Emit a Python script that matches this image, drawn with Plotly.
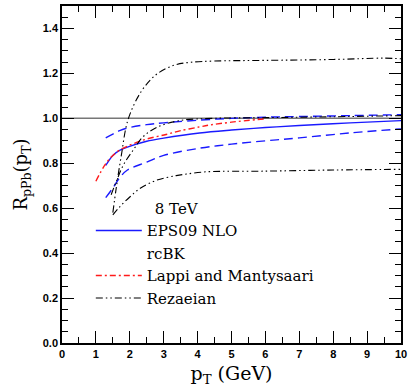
import plotly.graph_objects as go

# EPS09 NLO central and band
eps_pt = [1.29, 1.5, 1.7, 1.93, 2.5, 3.0, 4.06, 5.0, 6.0, 7.0, 8.5, 10.0]
eps_c = [0.79, 0.835, 0.857, 0.872, 0.898, 0.912, 0.935, 0.948, 0.959, 0.968, 0.980, 0.990]
eps_hi = [0.913, 0.93, 0.945, 0.957, 0.972, 0.980, 0.992, 1.000, 1.005, 1.008, 1.012, 1.016]
eps_lo = [0.647, 0.69, 0.735, 0.77, 0.805, 0.835, 0.867, 0.885, 0.900, 0.913, 0.935, 0.953]

# Lappi and Mantysaari
lm_pt = [1.0, 1.3, 1.6, 1.93, 2.5, 3.07, 3.5, 4.06, 4.35, 5.0, 6.0]
lm_r = [0.72, 0.80, 0.848, 0.876, 0.908, 0.928, 0.945, 0.962, 0.970, 0.983, 0.998]

# Rezaeian curves
rz_a_pt = [1.5, 1.6, 1.75, 1.95, 2.34, 2.78, 3.32, 3.76, 4.5, 6.0, 8.0, 9.5, 10.0]
rz_a = [0.58, 0.69, 0.835, 0.995, 1.12, 1.195, 1.237, 1.249, 1.255, 1.258, 1.262, 1.268, 1.265]
rz_b_pt = [1.45, 1.63, 1.82, 2.12, 2.39, 2.8, 3.47, 4.5, 6.0, 8.0, 10.0]
rz_b = [0.66, 0.73, 0.795, 0.863, 0.918, 0.96, 0.99, 1.0, 1.003, 1.007, 1.012]
rz_c_pt = [1.5, 1.69, 2.0, 2.32, 2.8, 3.37, 3.67, 4.25, 6.0, 8.0, 10.0]
rz_c = [0.57, 0.604, 0.65, 0.69, 0.725, 0.745, 0.752, 0.762, 0.765, 0.770, 0.773]

ref_x = [0, 10]
ref_y = [1.0, 1.0]

BLUE = "#1a1aff"
RED = "#ff1a1a"
BLACK = "#000000"
DASH = "9px,5px"
DASHDOT = "6px,3px,2px,3px"
DASHDOTDOT = "7px,3px,1.5px,3px,1.5px,3px"

fig = go.Figure()
fig.add_trace(go.Scatter(x=ref_x, y=ref_y, mode="lines", line=dict(color="#777777", width=1.5), showlegend=False))
fig.add_trace(go.Scatter(x=eps_pt, y=eps_c, mode="lines", line=dict(color=BLUE, width=1.4, shape="spline"), name="EPS09 NLO"))
fig.add_trace(go.Scatter(x=eps_pt, y=eps_hi, mode="lines", line=dict(color=BLUE, width=1.4, dash=DASH, shape="spline"), showlegend=False))
fig.add_trace(go.Scatter(x=eps_pt, y=eps_lo, mode="lines", line=dict(color=BLUE, width=1.4, dash=DASH, shape="spline"), showlegend=False))
fig.add_trace(go.Scatter(x=[None], y=[None], mode="lines", line=dict(color="rgba(0,0,0,0)", width=0), name="rcBK"))
fig.add_trace(go.Scatter(x=lm_pt, y=lm_r, mode="lines", line=dict(color=RED, width=1.4, dash=DASHDOT, shape="spline"), name="Lappi and Mantysaari"))
fig.add_trace(go.Scatter(x=rz_a_pt, y=rz_a, mode="lines", line=dict(color=BLACK, width=1.1, dash=DASHDOTDOT, shape="spline"), name="Rezaeian"))
fig.add_trace(go.Scatter(x=rz_b_pt, y=rz_b, mode="lines", line=dict(color=BLACK, width=1.1, dash=DASHDOTDOT, shape="spline"), showlegend=False))
fig.add_trace(go.Scatter(x=rz_c_pt, y=rz_c, mode="lines", line=dict(color=BLACK, width=1.1, dash=DASHDOTDOT, shape="spline"), showlegend=False))

tickfont = dict(family="Liberation Sans", size=11, color="black", weight="bold")
fig.update_xaxes(range=[0, 10], tickmode="linear", tick0=0, dtick=1, ticks="inside", ticklen=12,
                 tickwidth=1.2, tickcolor="black", mirror="allticks", showline=True, linecolor="black",
                 linewidth=1.5, showgrid=False, zeroline=False, tickfont=tickfont,
                 minor=dict(dtick=0.5, ticks="inside", ticklen=6, tickcolor="black", tickwidth=1),
                 title=dict(text="p<sub>T</sub> (GeV)", font=dict(family="DejaVu Serif", size=19, color="black"), standoff=8))
fig.update_yaxes(range=[0, 1.5], tickmode="linear", tick0=0, dtick=0.2, tickformat=".1f", ticks="inside",
                 ticklen=12, tickwidth=1.2, tickcolor="black", mirror="allticks", showline=True, linecolor="black",
                 linewidth=1.5, showgrid=False, zeroline=False, tickfont=tickfont,
                 minor=dict(dtick=0.05, ticks="inside", ticklen=6, tickcolor="black", tickwidth=1),
                 title=dict(text="R<sub>pPb</sub>(p<sub>T</sub>)", font=dict(family="DejaVu Serif", size=18, color="black"), standoff=10))

fig.update_layout(
    width=411, height=390,
    margin=dict(l=62, r=9, t=4, b=47),
    font=dict(color="black"),
    plot_bgcolor="white", paper_bgcolor="white",
    legend=dict(x=0.085, y=0.44, xanchor="left", yanchor="top", bgcolor="rgba(0,0,0,0)",
                font=dict(family="DejaVu Serif", size=15, color="black"),
                title=dict(text="&nbsp;" * 13 + "8 TeV", font=dict(family="DejaVu Serif", size=15, color="black")),
                tracegroupgap=0, itemwidth=46),
)
fig.write_html("out.html", config={"displayModeBar": False},
               post_script="document.body.style.margin='0px';")
